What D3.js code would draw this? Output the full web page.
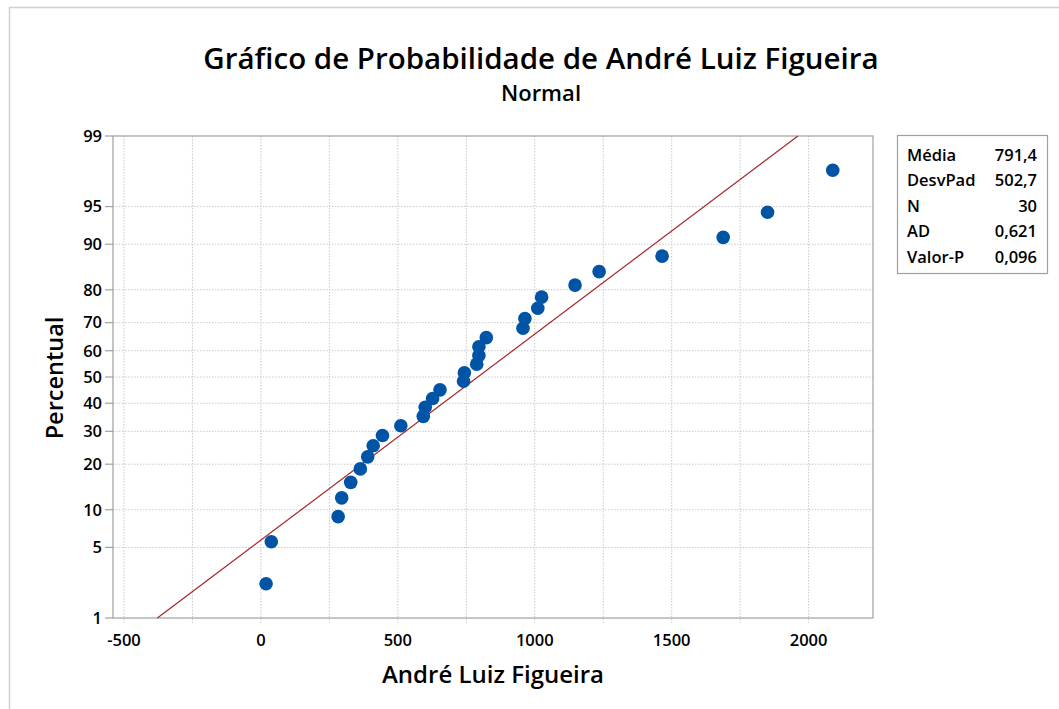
<!DOCTYPE html>
<head>
  <meta charset="utf-8">
  <script src="https://d3js.org/d3.v7.min.js"></script>
<style>
body { margin:0; background:#fff; }
text { font-family: "Open Sans", "Noto Sans", sans-serif; fill:#000; }
.grid line { stroke:#c8c8c8; stroke-dasharray:1.5,1.5; }
.frame { fill:none; stroke:#a0a0a0; stroke-width:1.2px; }
.tick-lbl { font-size:16.5px; font-weight:600; }
</style>
</head>
<body>
<script>
// data
var values   = [19, 38, 282, 295, 328, 363, 390, 410, 444, 511,
                593, 600, 627, 654, 740, 743, 788, 796, 796, 823,
                957, 964, 1011, 1025, 1147, 1235, 1465, 1688, 1850, 2088];
var percents = [2.30, 5.59, 8.88, 12.17, 15.46, 18.75, 22.04, 25.33, 28.62, 31.91,
                35.20, 38.49, 41.78, 45.07, 48.36, 51.64, 54.93, 58.22, 61.51, 64.80,
                68.09, 71.38, 74.67, 77.96, 81.25, 84.54, 87.83, 91.12, 94.41, 97.70];
var yTicks = [1, 5, 10, 20, 30, 40, 50, 60, 70, 80, 90, 95, 99];
var xTicks = [-500, 0, 500, 1000, 1500, 2000];
var xGrid  = [-500, -250, 0, 250, 500, 750, 1000, 1250, 1500, 1750, 2000];
var mean = 791.4, sd = 502.7;
var statLabels = ["Média", "DesvPad", "N", "AD", "Valor-P"];
var statValues = ["791,4", "502,7", "30", "0,621", "0,096"];

var W = 1059, H = 709;
var plot = {left:113, top:136, right:873, bottom:618};

// inverse normal cdf (Acklam) for the probability scale
function qnorm(p) {
  var a = [-3.969683028665376e+01, 2.209460984245205e+02, -2.759285104469687e+02, 1.383577518672690e+02, -3.066479806614716e+01, 2.506628277459239e+00];
  var b = [-5.447609879822406e+01, 1.615858368580409e+02, -1.556989798598866e+02, 6.680131188771972e+01, -1.328068155288572e+01];
  var c = [-7.784894002430293e-03, -3.223964580411365e-01, -2.400758277161838e+00, -2.549732539343734e+00, 4.374664141464968e+00, 2.938163982698783e+00];
  var d = [7.784695709041462e-03, 3.224671290700398e-01, 2.445134137142996e+00, 3.754408661907416e+00];
  var pl = 0.02425, q, r;
  if (p < pl) {
    q = Math.sqrt(-2 * Math.log(p));
    return (((((c[0]*q+c[1])*q+c[2])*q+c[3])*q+c[4])*q+c[5]) / ((((d[0]*q+d[1])*q+d[2])*q+d[3])*q+1);
  } else if (p <= 1 - pl) {
    q = p - 0.5; r = q * q;
    return (((((a[0]*r+a[1])*r+a[2])*r+a[3])*r+a[4])*r+a[5])*q / (((((b[0]*r+b[1])*r+b[2])*r+b[3])*r+b[4])*r+1);
  }
  q = Math.sqrt(-2 * Math.log(1 - p));
  return -(((((c[0]*q+c[1])*q+c[2])*q+c[3])*q+c[4])*q+c[5]) / ((((d[0]*q+d[1])*q+d[2])*q+d[3])*q+1);
}

var x = d3.scaleLinear().domain([-540, 2235]).range([plot.left, plot.right]);
var yz = d3.scaleLinear().domain([qnorm(0.01), qnorm(0.99)]).range([plot.bottom, plot.top]);
var y = function(p) { return yz(qnorm(p / 100)); };

var svg = d3.select("body").append("svg")
    .attr("width", W).attr("height", H);

// outer border (top + left)
svg.append("path").attr("d", "M9.5," + H + "V7.5H" + W)
    .attr("fill", "none").attr("stroke", "#d0d0d0").attr("stroke-width", 1.5);

// grid
var grid = svg.append("g").attr("class", "grid");
grid.selectAll(".gx").data(xGrid).enter().append("line")
    .attr("x1", d => x(d)).attr("x2", d => x(d))
    .attr("y1", plot.top).attr("y2", plot.bottom + 5);
grid.selectAll(".gy").data(yTicks.filter(d => d > 1 && d < 99)).enter().append("line")
    .attr("x1", plot.left).attr("x2", plot.right)
    .attr("y1", d => y(d)).attr("y2", d => y(d));

// y axis ticks + labels
var ya = svg.append("g");
ya.selectAll("line").data(yTicks).enter().append("line")
    .attr("x1", plot.left - 8).attr("x2", plot.left)
    .attr("y1", d => y(d)).attr("y2", d => y(d))
    .attr("stroke", "#a0a0a0").attr("stroke-width", 1.2);
ya.selectAll("text").data(yTicks).enter().append("text")
    .attr("class", "tick-lbl")
    .attr("x", plot.left - 11).attr("y", d => y(d)).attr("dy", "0.35em")
    .attr("text-anchor", "end").text(d => d);

// x axis labels
svg.append("g").selectAll("text").data(xTicks).enter().append("text")
    .attr("class", "tick-lbl")
    .attr("x", d => x(d)).attr("y", plot.bottom + 28)
    .attr("text-anchor", "middle").text(d => d);

// frame
svg.append("rect").attr("class", "frame")
    .attr("x", plot.left).attr("y", plot.top)
    .attr("width", plot.right - plot.left).attr("height", plot.bottom - plot.top);

// fitted line
var fit = [1, 99];
svg.append("path")
    .attr("d", d3.line().x(p => x(mean + sd * qnorm(p / 100))).y(p => y(p))(fit))
    .attr("fill", "none").attr("stroke", "#a3262a").attr("stroke-width", 1.2);

// points
svg.append("g").selectAll("circle").data(values).enter().append("circle")
    .attr("cx", d => x(d)).attr("cy", (d, i) => y(percents[i]))
    .attr("r", 6.8).attr("fill", "#0054a6");

// titles
svg.append("text").attr("x", 541).attr("y", 69).attr("text-anchor", "middle")
    .style("font-size", "29.5px").style("font-weight", 600)
    .text("Gráfico de Probabilidade de André Luiz Figueira");
svg.append("text").attr("x", 541).attr("y", 101).attr("text-anchor", "middle")
    .style("font-size", "22px").style("font-weight", 600)
    .text("Normal");
svg.append("text").attr("x", 493).attr("y", 683).attr("text-anchor", "middle")
    .style("font-size", "24px").style("font-weight", 600)
    .text("André Luiz Figueira");
svg.append("text").attr("transform", "translate(63,378) rotate(-90)")
    .attr("text-anchor", "middle")
    .style("font-size", "23.5px").style("font-weight", 600)
    .text("Percentual");

// stats box
var box = svg.append("g");
box.append("rect").attr("x", 897.5).attr("y", 135.5).attr("width", 150).attr("height", 138)
    .attr("fill", "#fff").attr("stroke", "#a0a0a0").attr("stroke-width", 1.2);
statLabels.forEach((s, i) => {
  box.append("text").attr("x", 907).attr("y", 155 + i * 25.5).attr("dy", "0.35em")
      .style("font-size", "16.5px").style("font-weight", 600).text(s);
  box.append("text").attr("x", 1037).attr("y", 155 + i * 25.5).attr("dy", "0.35em")
      .attr("text-anchor", "end")
      .style("font-size", "16.5px").style("font-weight", 600).text(statValues[i]);
});
</script>
</body>
